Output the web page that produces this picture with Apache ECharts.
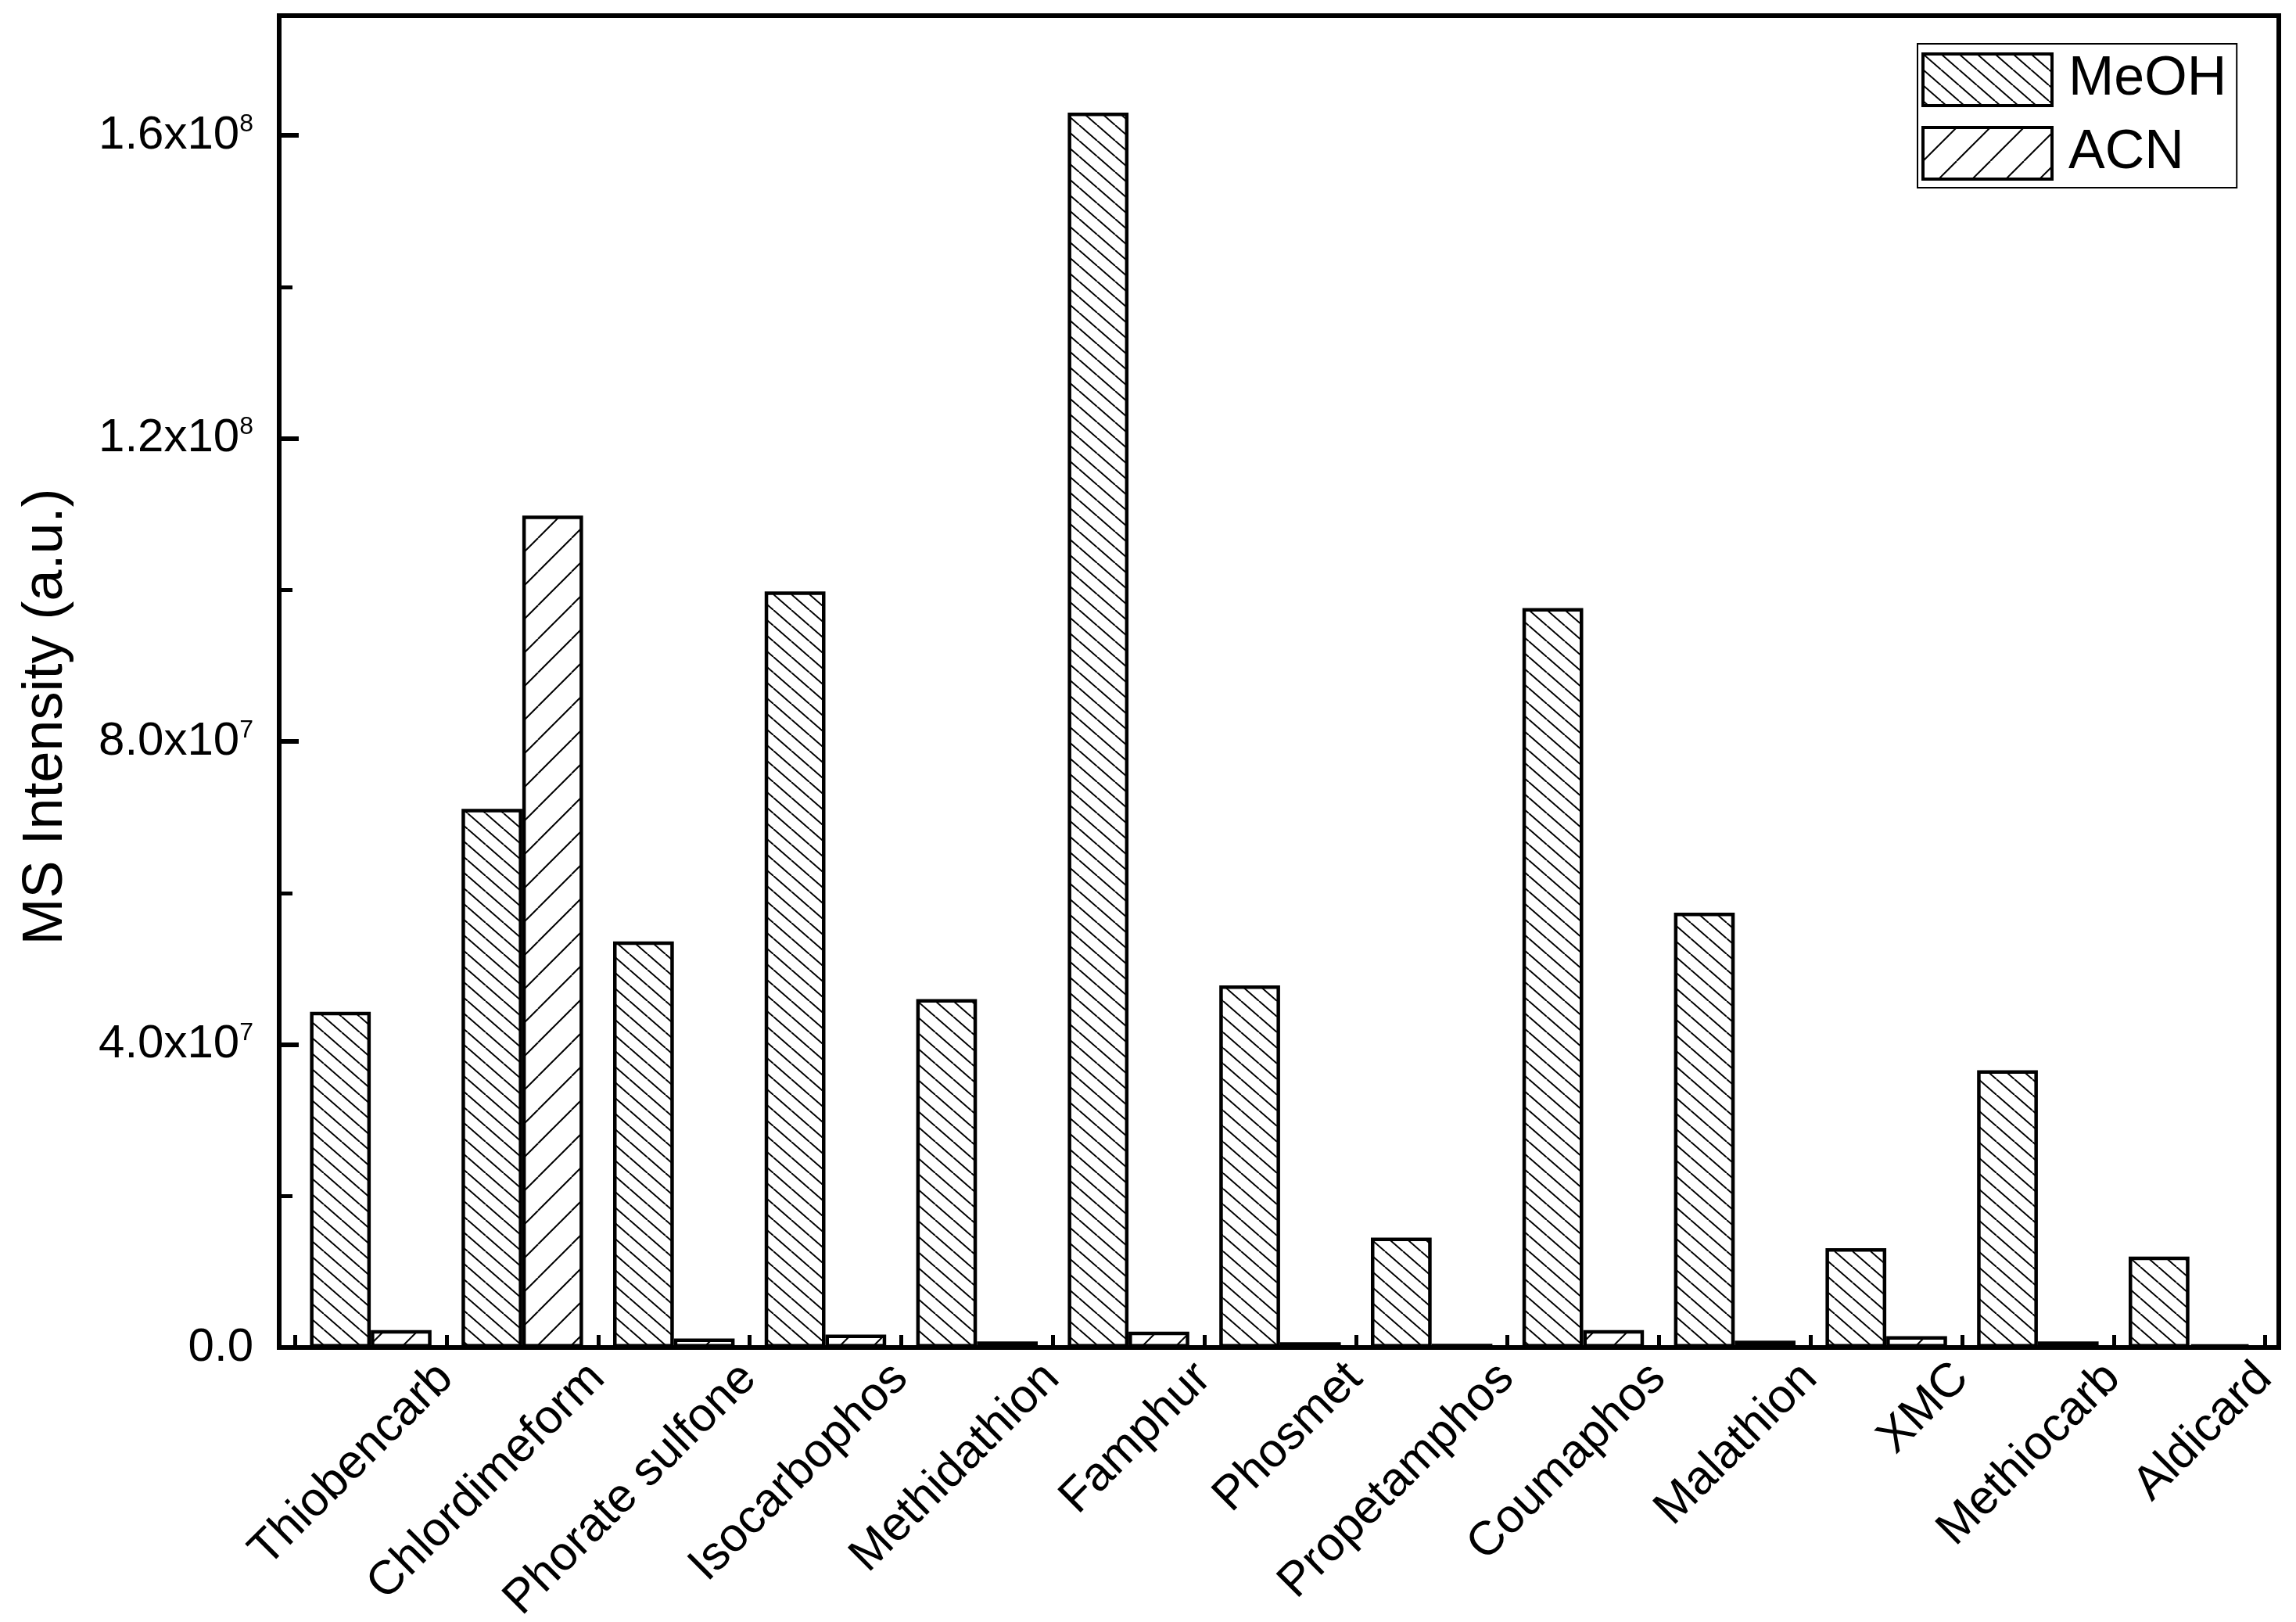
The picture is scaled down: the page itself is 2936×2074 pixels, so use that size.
<!DOCTYPE html>
<html>
<head>
<meta charset="utf-8">
<script src="https://cdn.jsdelivr.net/npm/echarts@6/dist/echarts.min.js"></script>
<style>
html,body{margin:0;padding:0;background:#fff;}
#c{width:2936px;height:2074px;}
</style>
</head>
<body>
<div id="c"></div>
<script>
// ---- data ----
const categories = ['Thiobencarb','Chlordimeform','Phorate sulfone','Isocarbophos','Methidathion','Famphur','Phosmet','Propetamphos','Coumaphos','Malathion','XMC','Methiocarb','Aldicard'];
const meohValues = [4.43e7, 7.11e7, 5.36e7, 9.98e7, 4.60e7, 1.63e8, 4.78e7, 1.45e7, 9.76e7, 5.74e7, 1.31e7, 3.66e7, 1.20e7];
const acnValues  = [2.3e6, 1.098e8, 1.2e6, 1.7e6, 0.8e6, 2.1e6, 0.7e6, 0.5e6, 2.3e6, 0.9e6, 1.5e6, 0.8e6, 0.4e6];
const yTickLabels = ['0.0','4.0x10^7','8.0x10^7','1.2x10^8','1.6x10^8'];
const seriesNames = ['MeOH','ACN'];
const yAxisName = 'MS Intensity (a.u.)';

const FONT = '"Liberation Sans", Arial, sans-serif';

function hatch(w, h, dir, lw) {
  const c = document.createElement('canvas');
  c.width = w; c.height = h;
  const g = c.getContext('2d');
  g.fillStyle = '#fff'; g.fillRect(0, 0, w, h);
  g.strokeStyle = '#000'; g.lineWidth = lw;
  for (let k = -1; k <= 1; k++) {
    g.beginPath();
    if (dir === 'back') { g.moveTo(k * w, 0); g.lineTo(k * w + w, h); }
    else { g.moveTo(k * w, h); g.lineTo(k * w + w, 0); }
    g.stroke();
  }
  return c;
}
const patMeOH = { image: hatch(23, 20, 'back', 2), repeat: 'repeat' };
const patACN = { image: hatch(43, 43, 'fwd', 2), repeat: 'repeat' };

function fmtY(v) {
  if (v === 0) return '{m|0.0}';
  const idx = [0, 4e7, 8e7, 1.2e8, 1.6e8].findIndex(t => Math.abs(t - v) < 1);
  if (idx < 0) return '';
  const parts = yTickLabels[idx].split('^');
  return '{m|' + parts[0] + '}{s|' + parts[1] + '}';
}

const YMAX = 1.758e8;
const G_TOP = 20, G_BOTTOM = 2074 - 1723;
const CAT_LEFT = 377.2, CAT_WIDTH = 2519.4;
const LBL_LEFT = 473, LBL_WIDTH = 2519.4;

const chart = echarts.init(document.getElementById('c'), null, { renderer: 'canvas' });
chart.setOption({
  animation: false,
  backgroundColor: '#fff',
  textStyle: { fontFamily: FONT, color: '#000' },
  grid: [
    { left: 357, right: 2936 - 2914, top: G_TOP, bottom: G_BOTTOM, show: true, borderColor: '#000', borderWidth: 6, backgroundColor: 'transparent', outerBoundsMode: 'none', containLabel: false },
    { left: CAT_LEFT, width: CAT_WIDTH, top: G_TOP, bottom: G_BOTTOM, outerBoundsMode: 'none', containLabel: false },
    { left: LBL_LEFT, width: LBL_WIDTH, top: G_TOP, bottom: G_BOTTOM, outerBoundsMode: 'none', containLabel: false }
  ],
  legend: {
    orient: 'vertical',
    left: 2452, top: 56,
    padding: [11, 13, 9, 5],
    itemWidth: 165, itemHeight: 66, itemGap: 24,
    borderColor: '#000', borderWidth: 2,
    icon: 'rect',
    selectedMode: false,
    itemStyle: { borderColor: '#000', borderWidth: 4 },
    textStyle: { fontSize: 70, fontFamily: FONT, color: '#000', padding: [0, 0, 0, 16] },
    data: seriesNames
  },
  xAxis: [
    { gridIndex: 0, type: 'value', show: false, min: 0, max: 1 },
    {
      gridIndex: 1, type: 'category', data: categories,
      axisLine: { show: false },
      axisTick: { show: true, inside: true, length: 16, lineStyle: { color: '#000', width: 5 } },
      axisLabel: { show: false },
      splitLine: { show: false }
    },
    {
      gridIndex: 2, type: 'category', data: categories,
      axisLine: { show: false },
      axisTick: { show: false },
      axisLabel: { show: true, interval: 0, rotate: 45, margin: 30, fontSize: 61, fontFamily: FONT, color: '#000' },
      splitLine: { show: false }
    }
  ],
  yAxis: [
    {
      gridIndex: 0, type: 'value', position: 'left', min: 0, max: YMAX, interval: 4e7,
      name: yAxisName, nameLocation: 'middle', nameRotate: 90, nameGap: 262,
      nameTextStyle: { fontSize: 72, fontFamily: FONT, color: '#000', padding: [0, 90, 0, 0] },
      axisLine: { show: false },
      axisTick: { show: true, inside: true, length: 25, lineStyle: { color: '#000', width: 6 } },
      axisLabel: {
        show: true, margin: 33, showMaxLabel: false,
        formatter: fmtY,
        rich: {
          m: { fontSize: 60, lineHeight: 60, fontFamily: FONT, color: '#000' },
          s: { fontSize: 32, lineHeight: 12, verticalAlign: 'top', fontFamily: FONT, color: '#000' }
        }
      },
      splitLine: { show: false }
    },
    {
      gridIndex: 0, type: 'value', position: 'left', min: 0, max: YMAX, interval: 2e7,
      axisLine: { show: false },
      axisTick: { show: true, inside: true, length: 17, lineStyle: { color: '#000', width: 5 } },
      axisLabel: { show: false },
      splitLine: { show: false }
    },
    { gridIndex: 1, type: 'value', min: 0, max: YMAX, show: false },
    { gridIndex: 2, type: 'value', min: 0, max: YMAX, show: false }
  ],
  series: [
    {
      name: seriesNames[0], type: 'bar', xAxisIndex: 1, yAxisIndex: 2,
      data: meohValues, barWidth: 77.7, barGap: '0%',
      itemStyle: { color: patMeOH, borderColor: '#000', borderWidth: 4.5 },
      emphasis: { disabled: true }
    },
    {
      name: seriesNames[1], type: 'bar', xAxisIndex: 1, yAxisIndex: 2,
      data: acnValues, barWidth: 77.7, barGap: '0%',
      itemStyle: { color: patACN, borderColor: '#000', borderWidth: 4.5 },
      emphasis: { disabled: true }
    }
  ]
});
</script>
</body>
</html>
